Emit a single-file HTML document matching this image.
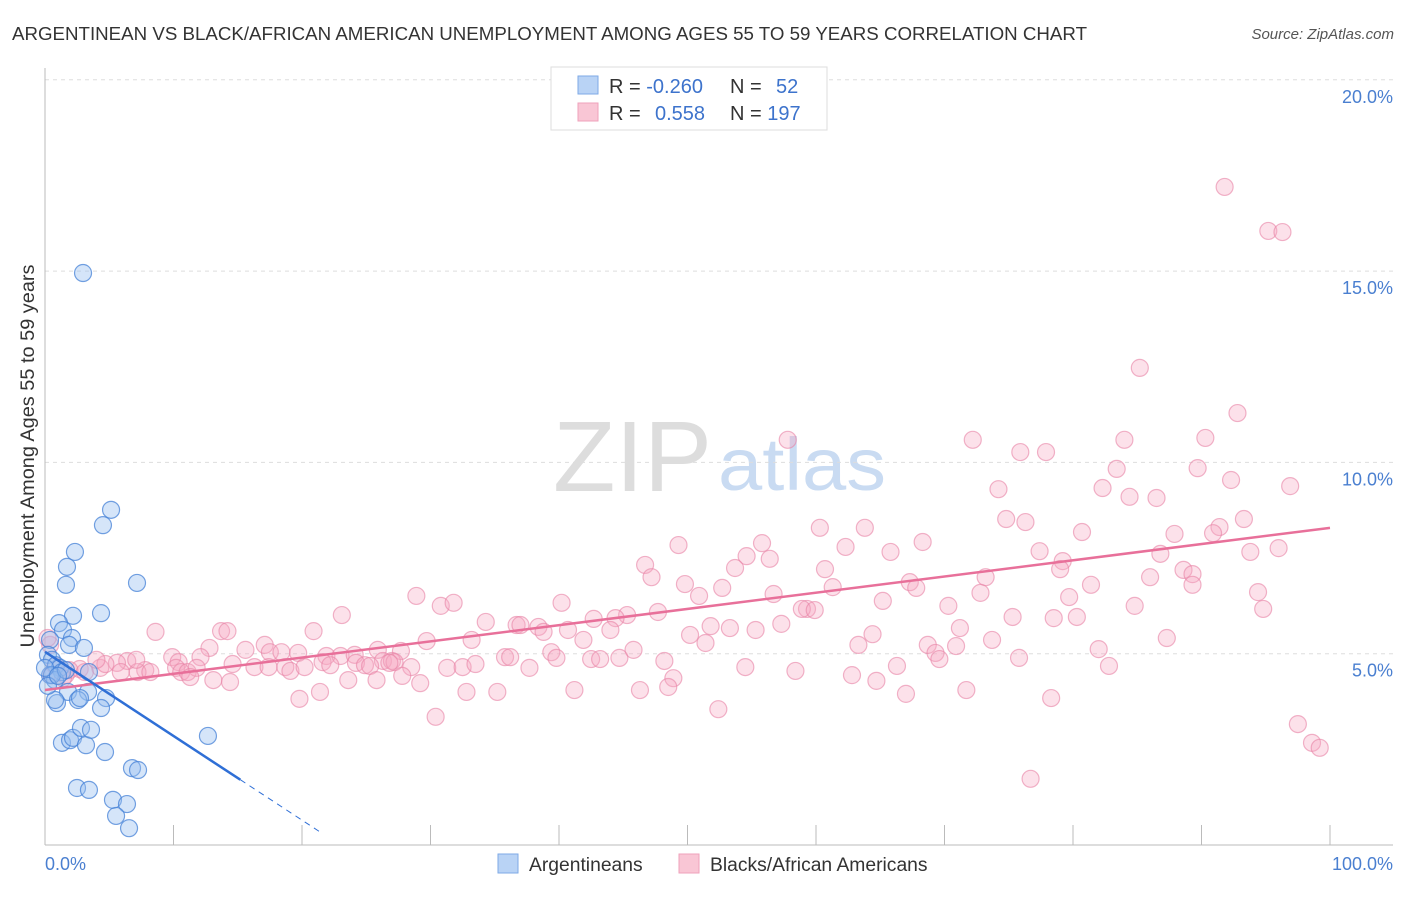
<!DOCTYPE html>
<html><head><meta charset="utf-8"><style>
body{margin:0;background:#fff;font-family:"Liberation Sans",sans-serif}
svg text{font-family:"Liberation Sans",sans-serif}
</style></head><body>
<svg id="chart" width="1406" height="892" xmlns="http://www.w3.org/2000/svg">
<text x="12" y="40" font-size="18.6" fill="#333" textLength="1075" lengthAdjust="spacingAndGlyphs">ARGENTINEAN VS BLACK/AFRICAN AMERICAN UNEMPLOYMENT AMONG AGES 55 TO 59 YEARS CORRELATION CHART</text>
<text x="1394" y="39" font-size="15" fill="#555" font-style="italic" text-anchor="end">Source: ZipAtlas.com</text>
<g>
<text x="553" y="491" font-size="100" fill="#ddd" font-family="Liberation Serif,serif" textLength="159" lengthAdjust="spacingAndGlyphs">ZIP</text>
<text x="718" y="490" font-size="74" fill="#c9dbf2" textLength="168" lengthAdjust="spacingAndGlyphs">atlas</text>
</g>
<g id="grid"></g>
<g id="axes"></g>
<g id="pts"></g>
<g id="trends"></g>
<text transform="translate(34,456) rotate(-90)" font-size="19" fill="#333" text-anchor="middle" textLength="383" lengthAdjust="spacingAndGlyphs">Unemployment Among Ages 55 to 59 years</text>
<g>
<rect x="551" y="67" width="276" height="63" fill="#fff" stroke="#ddd"/>
<rect x="578" y="76" width="20" height="18" fill="#b9d3f5" stroke="#7eaae6"/>
<rect x="578" y="103" width="20" height="18" fill="#f9c6d5" stroke="#efa2bb"/>
<text x="609" y="93" font-size="20" fill="#333">R = <tspan fill="#3d73cc">-0.260</tspan></text>
<text x="730" y="93" font-size="20" fill="#333">N = <tspan fill="#3d73cc" x="776">52</tspan></text>
<text x="609" y="120" font-size="20" fill="#333">R = <tspan fill="#3d73cc" x="655">0.558</tspan></text>
<text x="730" y="120" font-size="20" fill="#333">N = <tspan fill="#3d73cc">197</tspan></text>
</g>
<g>
<rect x="498" y="854" width="20" height="19" fill="#b9d3f5" stroke="#7eaae6"/>
<text x="529" y="871" font-size="19.3" fill="#333">Argentineans</text>
<rect x="679" y="854" width="20" height="19" fill="#f9c6d5" stroke="#efa2bb"/>
<text x="710" y="871" font-size="19.3" fill="#333">Blacks/African Americans</text>
</g>
</svg>
<script>
const yTicks=[5,10,15,20];
const yTickLabels=["5.0%","10.0%","15.0%","20.0%"];
const xTicks=[0,10,20,30,40,50,60,70,80,90,100];
const xEndLabels=["0.0%","100.0%"];
const blueX=[2.96,5.14,4.51,2.33,1.71,1.63,7.16,4.36,2.18,1.09,1.40,2.10,1.87,3.03,0.39,0.23,0.54,0.86,1.17,1.32,0.39,0.78,3.42,3.35,1.79,0.93,0.78,2.57,2.72,4.75,4.36,1.32,1.95,2.18,3.19,2.80,3.58,4.67,6.77,7.24,12.68,2.49,3.42,5.29,6.38,5.53,6.54,0.54,0,0.23,1.63,1.01];
const blueY=[14.95,8.76,8.36,7.66,7.27,6.80,6.85,6.06,5.99,5.80,5.62,5.41,5.23,5.15,5.36,4.97,4.84,4.70,4.63,4.52,4.44,4.31,4.52,4.00,4.00,3.71,3.79,3.79,3.84,3.84,3.58,2.67,2.74,2.80,2.61,3.06,3.01,2.43,2.01,1.96,2.85,1.49,1.44,1.18,1.07,0.76,0.44,4.44,4.63,4.16,4.57,4.42];
const pinkX=[91.8,95.2,96.3,85.2,92.8,57.8,72.2,84.0,90.3,75.9,77.9,83.4,89.7,92.3,96.9,74.2,82.3,84.4,86.5,74.8,76.3,60.3,63.8,91.4,90.9,80.7,87.9,93.3,49.3,55.8,68.3,62.3,65.8,54.6,77.4,86.8,96.0,93.8,79.2,79.0,56.4,46.7,53.7,47.2,49.8,60.7,67.3,88.6,86.0,73.2,89.3,81.4,89.3,61.3,67.8,52.7,56.7,50.9,94.4,79.7,28.9,30.8,31.8,40.2,65.2,70.3,59.3,58.9,59.9,47.7,94.8,84.8,72.8,23.1,45.3,75.3,80.3,42.7,34.3,36.7,37.0,38.4,40.7,44.4,44.0,53.3,55.3,71.2,57.3,38.8,51.8,8.6,13.7,14.2,20.9,33.2,29.7,41.9,50.2,51.4,64.4,73.7,17.1,12.8,78.5,82.0,87.3,27.7,25.9,63.3,68.7,69.3,70.9,17.5,18.4,19.7,21.9,23.0,24.1,26.3,27.0,27.2,26.8,21.6,15.6,14.6,12.1,9.9,10.4,6.4,5.6,4.3,4.7,2.7,1.9,0.5,0.8,1.6,7.8,7.2,8.2,10.2,10.6,11.1,11.8,16.3,17.4,18.7,19.1,20.2,22.2,24.2,24.9,25.3,28.5,31.3,32.5,33.5,35.8,36.2,39.4,39.8,42.5,43.2,44.7,45.8,48.2,54.5,58.4,66.3,82.8,75.8,69.6,13.1,11.3,23.6,25.8,27.8,29.2,37.7,48.9,62.8,64.7,71.7,67.0,78.3,48.5,46.3,41.2,35.2,32.8,21.4,19.8,14.4,30.4,52.4,76.7,97.5,98.6,99.2,5.9,7.1,1.4,3.1,4.0,0.4,0.2];
const pinkY=[17.20,16.05,16.02,12.47,11.29,10.59,10.59,10.59,10.64,10.27,10.27,9.83,9.85,9.54,9.38,9.30,9.33,9.10,9.07,8.52,8.44,8.29,8.29,8.31,8.15,8.18,8.13,8.52,7.84,7.89,7.92,7.79,7.66,7.55,7.68,7.61,7.76,7.66,7.42,7.21,7.48,7.32,7.24,7.00,6.82,7.21,6.87,7.19,7.00,7.00,7.08,6.80,6.80,6.74,6.72,6.72,6.56,6.51,6.61,6.48,6.51,6.25,6.33,6.33,6.38,6.25,6.17,6.17,6.14,6.09,6.17,6.25,6.59,6.01,6.01,5.96,5.96,5.91,5.83,5.75,5.75,5.70,5.62,5.93,5.62,5.67,5.62,5.67,5.78,5.57,5.72,5.57,5.59,5.59,5.59,5.36,5.33,5.36,5.49,5.28,5.51,5.36,5.23,5.15,5.93,5.12,5.41,5.07,5.10,5.23,5.23,5.02,5.20,5.04,5.04,5.02,4.94,4.94,4.97,4.81,4.81,4.78,4.76,4.78,5.10,4.73,4.91,4.91,4.78,4.81,4.76,4.63,4.73,4.60,4.57,4.44,4.68,4.44,4.57,4.52,4.52,4.63,4.52,4.52,4.63,4.65,4.65,4.65,4.55,4.65,4.70,4.76,4.70,4.68,4.65,4.63,4.65,4.73,4.91,4.91,5.04,4.89,4.86,4.86,4.89,5.10,4.81,4.65,4.55,4.68,4.68,4.89,4.86,4.31,4.39,4.31,4.31,4.42,4.23,4.63,4.36,4.44,4.29,4.05,3.95,3.84,4.13,4.05,4.05,4.00,4.00,4.00,3.82,4.26,3.35,3.55,1.73,3.16,2.67,2.54,4.52,4.84,4.36,4.52,4.84,5.23,5.41];
const blueTrend=[5.05,-0.22];   // intercept, slope
const blueSolidEnd=15.2, blueDashEnd=21.6;
const pinkTrend=[4.05,0.0424];
const NS="http://www.w3.org/2000/svg";
const X0=45,X1=1330,Y0=845,YS=38.26;
const sx=v=>X0+(X1-X0)*v/100;
const sy=v=>Y0-YS*v;
function mk(tag,attrs,parent){const e=document.createElementNS(NS,tag);for(const k in attrs)e.setAttribute(k,attrs[k]);parent.appendChild(e);return e;}
const grid=document.getElementById('grid'),axes=document.getElementById('axes'),pts=document.getElementById('pts'),tr=document.getElementById('trends');
yTicks.forEach((t,i)=>{
  const l=mk('line',{x1:X0,x2:1393,y1:sy(t),y2:sy(t),stroke:'#ddd','stroke-dasharray':'4,4'},grid);
  
  
  const tx=mk('text',{x:1393,y:sy(t)+23,'font-size':18,fill:'#4a7fd0','text-anchor':'end'},axes);
  tx.textContent=yTickLabels[i];
  
  
});
const ax=mk('line',{x1:X0,x2:X0,y1:68,y2:Y0,stroke:'#bbb'},axes);


const bx=mk('line',{x1:X0,x2:1393,y1:Y0,y2:Y0,stroke:'#bbb'},axes);


xTicks.forEach(t=>{
  const l=mk('line',{x1:sx(t),x2:sx(t),y1:Y0-20,y2:Y0,stroke:'#bbb'},axes);
  
  
});
[[0,'start',45],[100,'end',1393]].forEach((d,i)=>{
  const tx=mk('text',{x:d[2],y:870,'font-size':18,fill:'#4a7fd0','text-anchor':d[1]},axes);
  tx.textContent=xEndLabels[i];
  
  
});
pinkX.forEach((x,i)=>{
  const c=mk('circle',{cx:sx(x),cy:sy(pinkY[i]),r:8.5,fill:'rgba(247,170,195,0.35)',stroke:'rgba(232,130,165,0.6)','stroke-width':1.2},pts);
  
  
});
blueX.forEach((x,i)=>{
  const c=mk('circle',{cx:sx(x),cy:sy(blueY[i]),r:8.5,fill:'rgba(150,190,240,0.4)',stroke:'rgba(70,130,215,0.75)','stroke-width':1.2},pts);
  
  
});
const pl=mk('line',{x1:sx(0),y1:sy(pinkTrend[0]),x2:sx(100),y2:sy(pinkTrend[0]+100*pinkTrend[1]),stroke:'#e8709a','stroke-width':2.5},tr);


const bl=mk('line',{x1:sx(0),y1:sy(blueTrend[0]),x2:sx(blueSolidEnd),y2:sy(blueTrend[0]+blueSolidEnd*blueTrend[1]),stroke:'#2f6fd6','stroke-width':2.5},tr);


const bd=mk('line',{x1:sx(blueSolidEnd),y1:sy(blueTrend[0]+blueSolidEnd*blueTrend[1]),x2:sx(blueDashEnd),y2:sy(blueTrend[0]+blueDashEnd*blueTrend[1]),stroke:'#2f6fd6','stroke-width':1,'stroke-dasharray':'6,5'},tr);


</script>
</body></html>
